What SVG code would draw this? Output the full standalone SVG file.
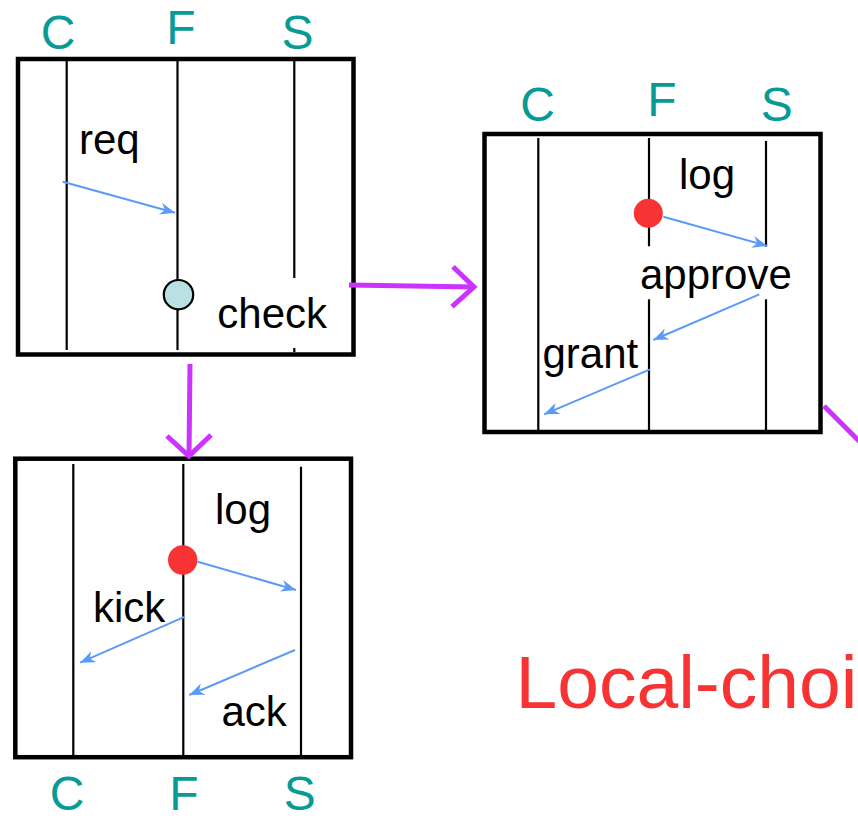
<svg xmlns="http://www.w3.org/2000/svg" width="858" height="818" viewBox="0 0 858 818">
  <style>
    .frame { fill: #ffffff; stroke: #000000; stroke-width: 4.5; }
    .life { stroke: #000000; stroke-width: 2.2; fill: none; }
    .msg { stroke: #5b9bf8; stroke-width: 2; fill: none; marker-end: url(#msgHead); }
    .lbl { font-family: "Liberation Sans", Arial, sans-serif; font-size: 42px; fill: #000000; }
    .role { font-family: "Liberation Sans", Arial, sans-serif; font-size: 48px; fill: #079b97; text-anchor: middle; }
    .dot { fill: #f83333; }
    .flow { stroke: #cc33ff; stroke-width: 5; fill: none; stroke-linecap: butt; }
    .title { font-family: "Liberation Sans", Arial, sans-serif; font-size: 75px; fill: #f83333; }
  </style>
  <defs>
    <marker id="msgHead" markerUnits="userSpaceOnUse" markerWidth="17" markerHeight="13" refX="15" refY="6" orient="auto">
      <path d="M0,0 L15,6 L0,12 L4.5,6 Z" fill="#5b9bf8"/>
    </marker>
  </defs>

  <!-- first state: request reaches F, F checks -->
  <g id="state-check">
    <text class="role" x="58" y="48.5">C</text>
    <text class="role" x="181" y="44">F</text>
    <text class="role" x="297.5" y="48.5">S</text>
    <rect class="frame" x="18" y="59" width="335.5" height="295.5"/>
    <line class="life" x1="66.7" y1="61" x2="66.7" y2="350"/>
    <line class="life" x1="177.5" y1="61" x2="177.5" y2="350"/>
    <line class="life" x1="294.3" y1="61" x2="294.3" y2="278"/>
    <line class="life" x1="294.3" y1="348" x2="294.3" y2="352"/>
    <text class="lbl" x="79" y="154">req</text>
    <line class="msg" x1="62.7" y1="181.7" x2="175" y2="212.7"/>
    <circle cx="178.5" cy="294.7" r="14.7" fill="#b9e0e3" stroke="#000000" stroke-width="2.2"/>
    <text class="lbl" x="217.3" y="328.3">check</text>
  </g>

  <!-- second state: F logs, S approves, F grants -->
  <g id="state-grant">
    <text class="role" x="537.5" y="120.5">C</text>
    <text class="role" x="662" y="115.7">F</text>
    <text class="role" x="776.7" y="120.5">S</text>
    <rect class="frame" x="484.5" y="134" width="336" height="298"/>
    <line class="life" x1="538.3" y1="138" x2="538.3" y2="430"/>
    <line class="life" x1="649" y1="138" x2="649" y2="246.3"/>
    <line class="life" x1="649" y1="299.3" x2="649" y2="430"/>
    <line class="life" x1="766" y1="141" x2="766" y2="246.7"/>
    <line class="life" x1="766" y1="299.3" x2="766" y2="430"/>
    <text class="lbl" x="679" y="189">log</text>
    <circle class="dot" cx="648.3" cy="213.3" r="14.5"/>
    <line class="msg" x1="663.3" y1="216.7" x2="767.3" y2="246"/>
    <text class="lbl" x="640" y="289">approve</text>
    <line class="msg" x1="759.3" y1="294.3" x2="653.3" y2="340"/>
    <text class="lbl" x="542.5" y="367.7">grant</text>
    <line class="msg" x1="650" y1="369.3" x2="544" y2="414.3"/>
  </g>

  <!-- third state: F logs, kicks C, S acks -->
  <g id="state-kick">
    <rect class="frame" x="15.3" y="458.7" width="335.7" height="298.5"/>
    <line class="life" x1="73.3" y1="464" x2="73.3" y2="755"/>
    <line class="life" x1="183.3" y1="464" x2="183.3" y2="755"/>
    <line class="life" x1="301" y1="466.7" x2="301" y2="755"/>
    <text class="lbl" x="215" y="524.3">log</text>
    <circle class="dot" cx="182.7" cy="560" r="14.7"/>
    <line class="msg" x1="197.7" y1="561.7" x2="296" y2="590"/>
    <text class="lbl" x="93" y="621.7">kick</text>
    <line class="msg" x1="185" y1="616.7" x2="80" y2="662.7"/>
    <line class="msg" x1="295" y1="650" x2="189.3" y2="695"/>
    <text class="lbl" x="221.5" y="725.7">ack</text>
    <text class="role" x="67.2" y="809.5">C</text>
    <text class="role" x="184" y="809.5">F</text>
    <text class="role" x="299.7" y="809.5">S</text>
  </g>

  <!-- transitions between states -->
  <g id="transitions">
    <line class="flow" x1="349" y1="285" x2="474" y2="287"/>
    <polyline class="flow" points="453,266.7 474,287 452,306.7"/>
    <line class="flow" x1="190" y1="364" x2="189" y2="456"/>
    <polyline class="flow" points="167,436 189,456 211,435"/>
    <line class="flow" x1="824" y1="406" x2="884" y2="466"/>
  </g>

  <text class="title" x="515.5" y="708.3">Local-choi</text>
</svg>
